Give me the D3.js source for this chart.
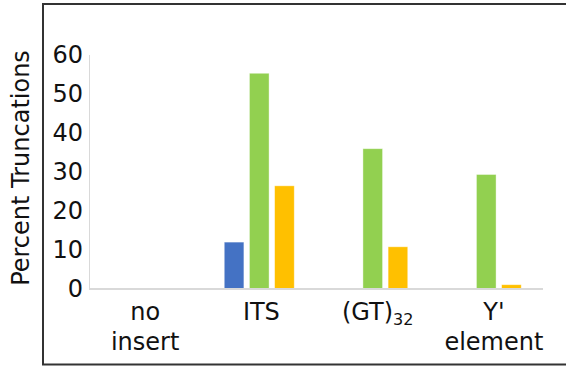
<!DOCTYPE html>
<html>
<head>
<meta charset="utf-8">
<script src="https://cdn.jsdelivr.net/npm/d3@7"></script>
<style>
  body { margin: 0; background: #fff; }
  svg text { font-family: "DejaVu Sans", Verdana, sans-serif; fill: #111; }
</style>
</head>
<body>
<div id="chart"></div>
<script>
// data
const categories = ["no insert", "ITS", "(GT)32", "Y' element"];
const seriesNames = ["s1", "s2", "s3"];
const s1 = [0, 12, 0, 0];
const s2 = [0, 55.2, 35.9, 29.3];
const s3 = [0, 26.4, 10.8, 1.1];
const yTicks = [0, 10, 20, 30, 40, 50, 60];
const colors = ["#4472C4", "#92D050", "#FFC000"];

const svgWidth = 566, svgHeight = 368;
const margin = { top: 54.5, right: 23, bottom: 79, left: 89 };
const width = svgWidth - margin.left - margin.right;
const height = svgHeight - margin.top - margin.bottom;

const svg = d3.select("#chart").append("svg")
  .attr("width", svgWidth)
  .attr("height", svgHeight);

// outer frame (right side runs off the picture)
svg.append("path")
  .attr("d", `M${svgWidth + 5},4 H43 V364.5 H${svgWidth + 5}`)
  .attr("fill", "none")
  .attr("stroke", "#333")
  .attr("stroke-width", 2);

const g = svg.append("g").attr("transform", `translate(${margin.left},${margin.top})`);

const x = d3.scaleBand().domain(categories).range([0, width]);
const y = d3.scaleLinear().domain([0, 60]).range([height, 0]);
const xs = d3.scaleBand().domain(seriesNames)
  .range([x.bandwidth() / 2 - 35, x.bandwidth() / 2 + 35])
  .paddingInner(0.22);

// bars
const rows = categories.map((c, i) => ({ cat: c, vals: [s1[i], s2[i], s3[i]] }));
g.selectAll("g.grp").data(rows).enter().append("g")
  .attr("class", "grp")
  .attr("transform", d => `translate(${x(d.cat)},0)`)
  .selectAll("rect")
  .data(d => d.vals.map((v, k) => ({ key: seriesNames[k], v, k })).filter(d => d.v > 0))
  .enter().append("rect")
  .attr("x", d => xs(d.key))
  .attr("width", xs.bandwidth())
  .attr("y", d => y(d.v))
  .attr("height", d => y(0) - y(d.v))
  .attr("fill", d => colors[d.k])
  .attr("stroke", "#fff")
  .attr("stroke-opacity", 0.5)
  .attr("stroke-width", 0.8);

// y axis
const yAxis = g.append("g")
  .call(d3.axisLeft(y).tickValues(yTicks).tickSize(0).tickPadding(6));
yAxis.select(".domain").attr("stroke", "#d9d9d9").attr("stroke-width", 1);
yAxis.selectAll("text").attr("font-size", 24).attr("fill", "#111");

// x axis line
g.append("line")
  .attr("x1", 0).attr("x2", width)
  .attr("y1", y(0)).attr("y2", y(0))
  .attr("stroke", "#d9d9d9")
  .attr("stroke-width", 2);

// category labels (slightly wider spread than the bars, as in the picture)
const xl = d3.scaleBand().domain(categories).range([87 - margin.left, 552 - margin.left]);
const labelLines = {
  "no insert": ["no", "insert"],
  "ITS": ["ITS"],
  "(GT)32": ["(GT)"],
  "Y' element": ["Y'", "element"]
};
categories.forEach(c => {
  const cx = xl(c) + xl.bandwidth() / 2;
  const lines = labelLines[c];
  if (c === "(GT)32") {
    const t = g.append("text")
      .attr("x", cx)
      .attr("y", y(0) + 31)
      .attr("text-anchor", "middle")
      .attr("font-size", 24);
    t.append("tspan").text("(GT)");
    t.append("tspan").attr("font-size", 16).attr("dy", 5).text("32");
  } else {
    lines.forEach((ln, i) => {
      g.append("text")
        .attr("x", cx)
        .attr("y", y(0) + 31 + i * 30)
        .attr("text-anchor", "middle")
        .attr("font-size", 24)
        .text(ln);
    });
  }
});

// y title
svg.append("text")
  .attr("transform", "translate(29,168) rotate(-90)")
  .attr("text-anchor", "middle")
  .attr("font-size", 24)
  .text("Percent Truncations");
</script>
</body>
</html>
